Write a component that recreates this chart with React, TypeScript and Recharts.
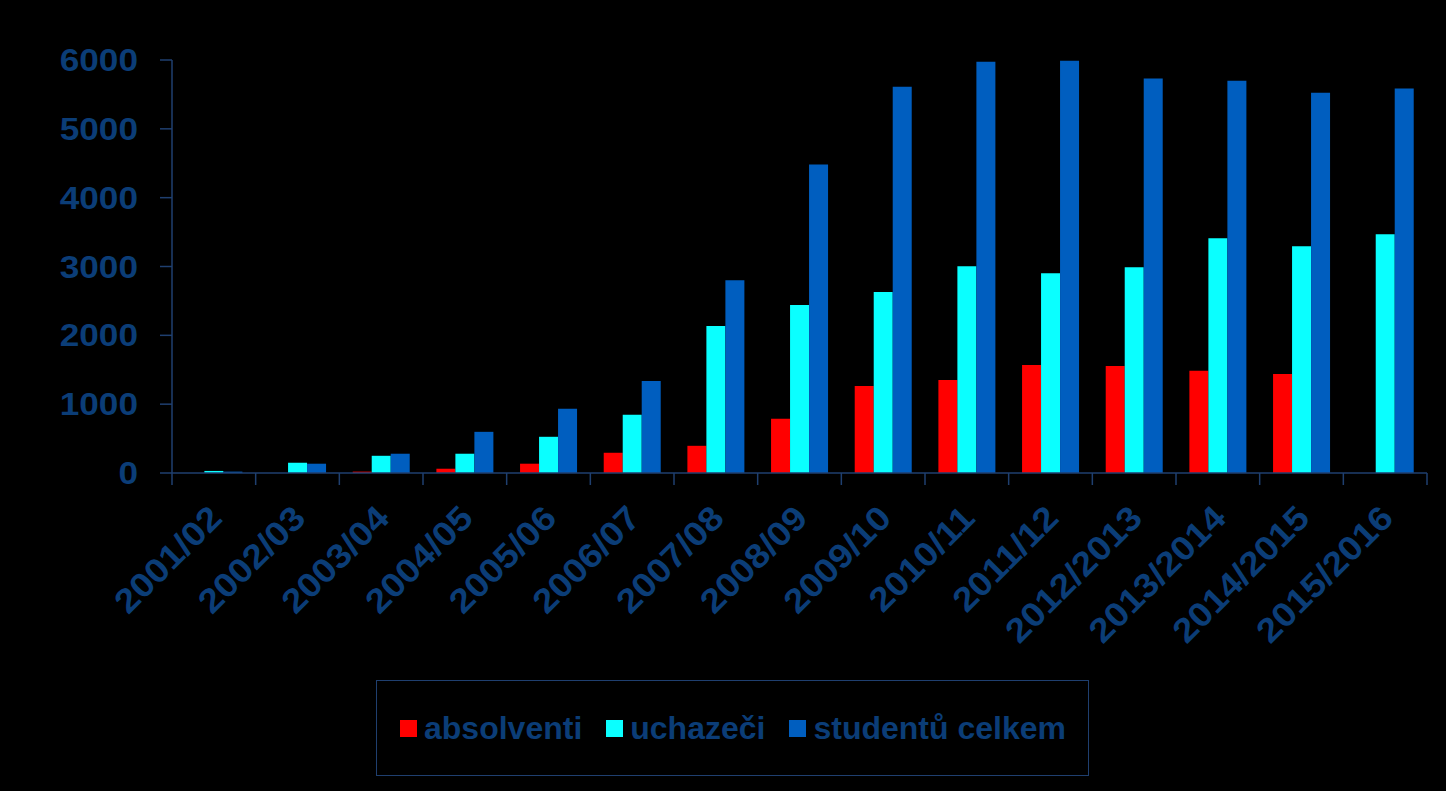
import React from 'react';
import { BarChart, Bar, XAxis, YAxis, Legend } from 'recharts';

// school years
const years = [
  '2001/02', '2002/03', '2003/04', '2004/05', '2005/06', '2006/07', '2007/08', '2008/09',
  '2009/10', '2010/11', '2011/12', '2012/2013', '2013/2014', '2014/2015', '2015/2016',
];
const absolventi = [0, 0, 20, 62, 135, 294, 395, 787, 1265, 1352, 1570, 1555, 1485, 1440, 0];
const uchazeci = [30, 149, 250, 280, 526, 845, 2135, 2440, 2628, 3005, 2903, 2990, 3410, 3295, 3468];
const studenti = [20, 135, 280, 598, 932, 1338, 2801, 4483, 5613, 5975, 5990, 5730, 5700, 5525, 5585];
const yTicks = [0, 1000, 2000, 3000, 4000, 5000, 6000];

const TEXT = '#0B3D77';
const AXIS = '#1F3F6F';
const FONT = 'Arial, "Liberation Sans", sans-serif';

const series = [
  { key: 'absolventi', name: 'absolventi', color: '#FF0000' },
  { key: 'uchazeci', name: 'uchazeči', color: '#0AFFFF' },
  { key: 'studenti', name: 'studentů celkem', color: '#005EBF' },
];

const data = years.map((year, i) => ({
  year,
  absolventi: absolventi[i],
  uchazeci: uchazeci[i],
  studenti: studenti[i],
}));

// category labels, slanted, with tick marks between categories
const YearTick = (props: any) => {
  const { x, y, payload, index, visibleTicksCount } = props;
  const half = payload.offset || 0;
  const tx = x + 10;
  const ty = y + 47;
  return (
    <g>
      <line x1={x - half} y1={y} x2={x - half} y2={y + 12} stroke={AXIS} strokeWidth={1.5} />
      {index === visibleTicksCount - 1 && (
        <line x1={x + half} y1={y} x2={x + half} y2={y + 12} stroke={AXIS} strokeWidth={1.5} />
      )}
      <text
        x={0}
        y={0}
        textAnchor="end"
        transform={`translate(${tx}, ${ty}) rotate(-45) scale(1.1, 1)`}
        fill={TEXT}
        fontSize={34}
        fontWeight="bold"
        fontFamily={FONT}
      >
        {payload.value}
      </text>
    </g>
  );
};

const ValueTick = (props: any) => {
  const { x, y, payload } = props;
  return (
    <text
      x={0}
      y={0}
      dy={11}
      textAnchor="end"
      transform={`translate(${x}, ${y}) scale(1.1, 1)`}
      fill={TEXT}
      fontSize={32}
      fontWeight="bold"
      fontFamily={FONT}
    >
      {payload.value}
    </text>
  );
};

const LegendBox = () => (
  <div
    style={{
      width: 713,
      height: 96,
      boxSizing: 'border-box',
      border: `1px solid ${AXIS}`,
      display: 'flex',
      alignItems: 'center',
      paddingLeft: 23,
      fontFamily: FONT,
      fontWeight: 'bold',
      fontSize: 32,
      color: TEXT,
      whiteSpace: 'nowrap',
    }}
  >
    {series.map(s => (
      <span key={s.key} style={{ display: 'flex', alignItems: 'center', marginRight: 24, flexShrink: 0 }}>
        <span style={{ width: 17, height: 17, background: s.color, marginRight: 7, display: 'inline-block' }} />
        {s.name}
      </span>
    ))}
  </div>
);

export default function App() {
  return (
    <div style={{ position: 'absolute', left: 0, top: 0, width: 1446, height: 791, background: '#000' }}>
      <BarChart
        width={1446}
        height={791}
        data={data}
        margin={{ top: 60, right: 19, left: 0, bottom: 12 }}
        barCategoryGap="16%"
        barGap={0}
      >
        <XAxis
          dataKey="year"
          stroke={AXIS}
          strokeWidth={1.5}
          tickLine={false}
          tickSize={0}
          tickMargin={0}
          height={210}
          interval={0}
          tick={<YearTick />}
        />
        <YAxis
          domain={[0, 6000]}
          ticks={yTicks}
          width={172}
          stroke={AXIS}
          strokeWidth={1.5}
          tickSize={12}
          tickMargin={22}
          tick={<ValueTick />}
        />
        <Legend
          content={<LegendBox />}
          wrapperStyle={{ left: 376, top: 680, width: 713, height: 96 }}
        />
        {series.map(s => (
          <Bar key={s.key} dataKey={s.key} name={s.name} fill={s.color} isAnimationActive={false} />
        ))}
      </BarChart>
    </div>
  );
}
